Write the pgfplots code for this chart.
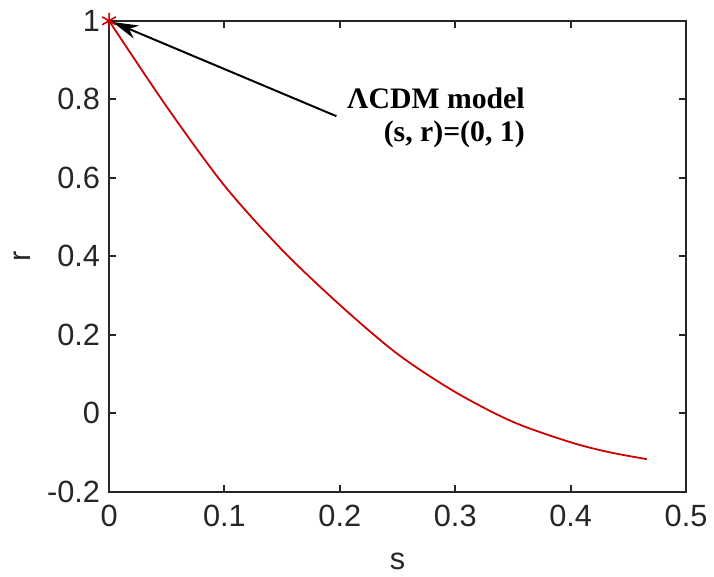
\documentclass[border=0pt]{standalone}
\usepackage{pgfplots}
\pgfplotsset{compat=1.18}
\usepackage{fontspec}
\setmainfont{Liberation Sans}
\newfontfamily\serifb{Liberation Serif}
\usetikzlibrary{arrows.meta}
\definecolor{axgray}{gray}{0.15}
\definecolor{curvered}{rgb}{0.80,0.0,0.0}
\begin{document}
\begin{tikzpicture}
\begin{axis}[
  at={(0,0)}, anchor=south west,
  scale only axis,
  width=291pt, height=237.5pt,
  xmin=0, xmax=0.5, ymin=-0.2, ymax=1,
  xtick={0,0.1,0.2,0.3,0.4,0.5},
  ytick={-0.2,0,0.2,0.4,0.6,0.8,1},
  xticklabels={0,0.1,0.2,0.3,0.4,0.5},
  yticklabels={-0.2,0,0.2,0.4,0.6,0.8,1},
  tick align=inside,
  major tick length=3.5pt,
  axis line style={axgray, line width=1pt},
  every tick/.style={axgray, line width=1pt},
  tick label style={font=\fontsize{15.5}{18}\selectfont, text=axgray},
  xticklabel style={yshift=-3pt},
  yticklabel style={xshift=-1pt},
  xlabel={s}, ylabel={r},
  label style={font=\fontsize{15.5}{18}\selectfont, text=axgray},
  xlabel style={at={(axis description cs:0.5,0)}, anchor=center, yshift=-35pt},
  ylabel style={at={(axis description cs:0,0.5)}, anchor=center, yshift=44pt},
  clip=false,
]
\addplot[curvered, line width=0.9pt, smooth, tension=0.5] coordinates {
  (0,1) (0.05,0.781) (0.10,0.580) (0.15,0.416) (0.20,0.276)
  (0.25,0.151) (0.30,0.054) (0.35,-0.022) (0.40,-0.074)
  (0.433,-0.099) (0.466,-0.117)
};
\addplot[only marks, mark=asterisk, mark size=4pt, curvered, mark options={line width=0.8pt}] coordinates {(0,1)};
\draw[black, line width=1pt, -{Stealth[length=13pt, width=7pt, inset=4pt]}]
  (axis cs:0.197,0.757) -- (axis cs:0.003,0.997);
\node[anchor=base east, inner sep=0pt, font=\serifb\bfseries\fontsize{15}{18}\selectfont] at (axis cs:0.3605,0.777) {ΛCDM model};
\node[anchor=base east, inner sep=0pt, font=\serifb\bfseries\fontsize{15}{18}\selectfont] at (axis cs:0.3605,0.693) {(s, r)=(0, 1)};
\end{axis}
\path[use as bounding box] (-55pt,-43pt) rectangle (302pt,248pt);
\end{tikzpicture}
\end{document}
